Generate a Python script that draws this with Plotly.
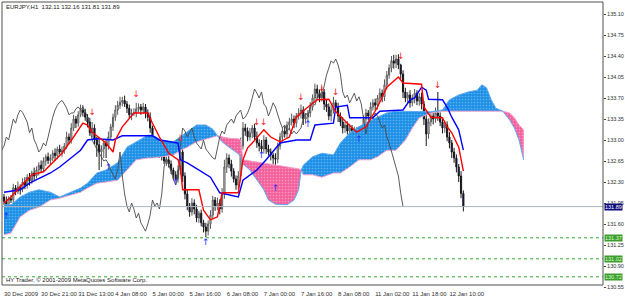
import numpy as np
import plotly.graph_objects as go

# ---------------- data ----------------
closes = [
    131.98, 131.92, 132.02, 132.00, 132.20, 132.14, 132.22, 132.18, 132.30, 132.25,
    132.38, 132.32, 132.45, 132.40, 132.50, 132.58, 132.52, 132.65, 132.72, 132.66,
    132.70, 132.78, 132.74, 132.85, 132.80, 132.83, 132.90, 133.05, 133.00, 133.20,
    133.35, 133.28, 133.42, 133.50, 133.46, 133.38, 133.30, 133.12, 133.20, 133.00,
    132.92, 132.80, 132.85, 132.95, 132.90, 133.05, 133.22, 133.38, 133.50, 133.58,
    133.63, 133.66, 133.60, 133.53, 133.42, 133.45, 133.45, 133.52, 133.55, 133.50,
    133.55, 133.45, 133.38, 133.20, 133.00, 132.92, 132.85, 132.78, 132.72, 132.65,
    132.67, 132.60, 132.50, 132.42, 132.35, 132.50, 132.80, 132.40, 132.10, 131.90,
    131.80, 131.95, 131.85, 131.70, 131.78, 131.62, 131.55, 131.48, 131.60, 131.75,
    132.00, 131.90, 131.95, 131.85, 132.10, 132.55, 132.70, 132.60, 132.48, 132.35,
    132.25, 132.40, 132.90, 133.20, 133.15, 133.05, 133.12, 133.20, 133.05, 132.95,
    132.90, 132.85, 133.00, 132.85, 132.80, 132.75, 132.70, 132.68, 132.90, 133.05,
    133.15, 133.10, 133.25, 133.30, 133.35, 133.28, 133.40, 133.45, 133.50, 133.35,
    133.38, 133.45, 133.55, 133.70, 133.85, 133.78, 133.70, 133.80, 133.60, 133.55,
    133.40, 133.50, 133.62, 133.55, 133.40, 133.30, 133.20, 133.25, 133.15, 133.20,
    133.10, 133.15, 133.10, 133.15, 133.20, 133.35, 133.45, 133.40, 133.55, 133.62,
    133.58, 133.70, 133.78, 133.72, 133.92, 134.08, 134.20, 134.32, 134.28, 134.35,
    134.25, 134.10, 133.80, 133.70, 133.75, 133.62, 133.70, 133.78, 133.65, 133.72,
    133.60, 133.35, 133.10, 133.30, 133.40, 133.35, 133.45, 133.40, 133.30, 133.20,
    133.25, 133.05, 132.95, 132.80, 132.70, 132.55, 132.40, 132.11, 131.89,
]
first_open = 132.05
hi_wick = [  # pips above the body
    5, 8, 4, 6, 7, 5, 9, 4, 6, 8,   5, 7, 4, 9, 6, 5, 8, 6, 4, 7,
    6, 5, 8, 4, 7, 6, 5, 9, 6, 8,   7, 5, 6, 9, 8, 6, 5, 7, 10, 6,
    5, 8, 6, 4, 7, 9, 5, 6, 8, 7,   9, 6, 8, 5, 6, 7, 8, 10, 6, 5,
    7, 5, 6, 8, 4, 6, 7, 5, 6, 8,   5, 7, 6, 4, 6, 8, 15, 9, 6, 7,
    5, 8, 6, 7, 4, 6, 5, 7, 6, 8,   7, 5, 9, 6, 10, 12, 8, 6, 7, 5,
    6, 8, 14, 10, 7, 6, 8, 5, 7, 9,  6, 10, 8, 5, 7, 6, 4, 8, 6, 7,
    5, 8, 6, 7, 9, 6, 5, 8, 9, 6,   7, 5, 8, 6, 9, 7, 6, 9, 5, 7,
    6, 8, 10, 5, 7, 6, 8, 5, 6, 7,  5, 7, 6, 8, 5, 6, 7, 5, 8, 6,
    7, 5, 8, 6, 9, 7, 6, 8, 10, 7,  8, 2, 6, 7, 5, 8, 6, 7, 5, 6,
    7, 5, 8, 6, 7, 5, 9, 35, 6, 5,  7, 6, 8, 5, 7, 6, 5, 8, 5,
]
lo_wick = [  # pips below the body
    6, 10, 8, 5, 7, 6, 4, 9, 5, 7,  6, 8, 5, 7, 4, 9, 6, 5, 8, 6,
    7, 5, 9, 6, 4, 8, 6, 5, 7, 6,   5, 8, 6, 4, 7, 6, 9, 5, 8, 7,
    20, 30, 25, 15, 20, 6, 5, 7, 6, 8,  6, 7, 5, 8, 6, 9, 5, 7, 6, 8,
    6, 9, 7, 8, 10, 6, 7, 8, 6, 5,  8, 6, 7, 9, 3, 6, 8, 10, 9, 7,
    8, 6, 9, 7, 8, 6, 9, 10, 7, 8,  6, 8, 7, 9, 6, 8, 10, 7, 9, 6,
    8, 7, 9, 6, 8, 7, 6, 9, 7, 8,   9, 7, 7, 8, 6, 9, 10, 38, 7, 6,
    8, 6, 7, 9, 6, 8, 7, 6, 9, 10,  8, 8, 7, 6, 8, 9, 7, 6, 10, 8,
    7, 9, 6, 8, 10, 7, 9, 8, 6, 7,  9, 20, 8, 5, 7, 6, 8, 7, 9, 6,
    8, 7, 6, 9, 7, 8, 6, 7, 9, 8,   7, 8, 10, 7, 9, 8, 6, 9, 7, 8,
    9, 10, 20, 8, 7, 9, 6, 8, 7, 9, 8, 7, 9, 10, 8, 9, 10, 8, 8,
]

tick_bars = [0, 16, 32, 48, 64, 80, 96, 112, 128, 144, 160, 176, 192]
tick_labels = ["30 Dec 2009", "30 Dec 21:00", "31 Dec 13:00", "4 Jan 08:00",
               "5 Jan 00:00", "5 Jan 16:00", "6 Jan 08:00", "7 Jan 00:00",
               "7 Jan 16:00", "8 Jan 08:00", "11 Jan 02:00", "11 Jan 18:00",
               "12 Jan 10:00"]
price_ticks = [130.55, 130.90, 131.25, 131.60, 131.95, 132.30, 132.65,
               133.00, 133.35, 133.70, 134.05, 134.40, 134.75, 135.10]

tenkan_bar = [0, 3, 7, 12, 17, 21, 25, 30, 34, 36, 38, 44, 47, 48, 51, 56, 62, 64,
              67, 71, 75, 76, 77, 84, 86, 89, 92, 94, 101, 103, 105, 107, 112, 115,
              119, 123, 126, 131, 135, 140, 143, 148, 152, 156, 161, 165, 170, 172,
              180, 181, 184, 189, 191, 193, 196, 198]
tenkan_val = [131.95, 132.05, 132.22, 132.42, 132.47, 132.62, 132.78, 133.05, 133.28,
              133.25, 133.13, 132.95, 132.80, 133.00, 133.22, 133.45, 133.45, 133.28,
              133.05, 132.78, 132.67, 132.55, 132.17, 132.17, 131.83, 131.67, 131.72,
              132.12, 132.12, 132.67, 132.87, 132.95, 133.17, 133.05, 132.97, 133.05,
              133.38, 133.55, 133.67, 133.68, 133.47, 133.28, 133.13, 133.22, 133.55,
              133.88, 134.05, 133.95, 133.93, 133.55, 133.38, 133.37, 133.22, 133.12,
              132.88, 132.48]

kijun_bar = [0, 7, 11, 20, 24, 28, 33, 36, 40, 47, 51, 64, 67, 75, 76, 79, 84, 89, 93,
             101, 103, 109, 113, 119, 126, 132, 134, 142, 143, 148, 149, 159, 162, 172,
             175, 177, 180, 182, 183, 189, 191, 193, 196, 198]
kijun_val = [132.13, 132.17, 132.28, 132.45, 132.55, 132.67, 132.83, 133.00, 133.02,
             133.00, 133.07, 133.07, 133.00, 132.95, 132.67, 132.62, 132.50, 132.38,
             132.12, 132.05, 132.33, 132.50, 132.67, 132.95, 133.00, 133.00, 133.25,
             133.28, 133.55, 133.58, 133.37, 133.37, 133.48, 133.50, 133.67, 133.70,
             133.88, 133.83, 133.68, 133.67, 133.55, 133.38, 133.17, 132.83]

cloud_bar = [0, 3, 7, 11, 15, 20, 24, 28, 33, 36, 40, 44, 49, 53, 57, 62, 64, 68, 73,
             76, 79, 83, 87, 90, 92, 94, 97, 101, 102, 103, 106, 109, 112, 114, 117,
             122, 125, 127, 128, 129, 133, 137, 142, 145, 149, 153, 158, 161, 165, 169,
             173, 176, 179, 184, 189, 192, 196, 200, 204, 206, 208, 210, 212, 215, 218,
             220, 222, 224]
span_a = [131.92, 131.92, 132.05, 132.13, 132.17, 132.13, 132.05, 132.12, 132.20, 132.28,
          132.45, 132.50, 132.62, 132.88, 132.97, 133.08, 133.08, 133.00, 132.97, 133.05,
          133.13, 133.25, 133.25, 133.18, 133.07, 132.97, 132.88, 132.77, 132.72, 132.60,
          132.50, 132.33, 132.17, 132.00, 131.93, 131.92, 132.00, 132.17, 132.47, 132.58,
          132.72, 132.78, 132.75, 132.95, 133.12, 133.22, 133.33, 133.38, 133.45, 133.48,
          133.48, 133.48, 133.48, 133.47, 133.50, 133.67, 133.75, 133.80, 133.83, 133.92,
          133.87, 133.67, 133.53, 133.48, 133.33, 133.20, 133.00, 132.67]
span_b = [131.42, 131.45, 131.72, 131.83, 131.88, 132.00, 132.03, 132.08, 132.13, 132.20,
          132.28, 132.30, 132.33, 132.50, 132.67, 132.70, 132.70, 132.72, 132.75, 132.83,
          132.88, 132.97, 133.02, 133.05, 133.07, 133.05, 133.03, 133.02, 133.00, 132.67,
          132.65, 132.63, 132.62, 132.60, 132.58, 132.55, 132.53, 132.52, 132.50, 132.42,
          132.42, 132.38, 132.45, 132.45, 132.55, 132.67, 132.67, 132.72, 132.83, 132.83,
          133.00, 133.20, 133.37, 133.45, 133.48, 133.48, 133.48, 133.48, 133.48, 133.48,
          133.48, 133.48, 133.48, 133.48, 133.45, 133.37, 133.25, 133.17]
chikou_shift = 26

frac_dn_bar = [38, 57, 76, 109, 112, 128, 137, 143, 171, 187]
frac_dn_val = [133.45, 133.76, 133.02, 133.28, 133.28, 133.70, 133.86, 133.78, 134.38, 133.90]
frac_up_bar = [1, 45, 74, 87, 111, 117, 131, 153]
frac_up_val = [131.72, 132.53, 132.28, 131.28, 132.73, 132.18, 133.25, 133.00]

last_price = 131.89
green_levels = [131.37, 131.02, 130.72]
title_text = "EURJPY,H1  132.11 132.16 131.81 131.89"
footer_text = "HY Trader, \u00a9 2001-2009 MetaQuotes Software Corp."

# ---------------- layout geometry ----------------
W, H = 625, 299
PX_L, PX_R, PX_T, PX_B = 2, 603, 2, 289
FRAME_B = 285
BAR0_PX, BAR_PX = 4.0, 2.32
REF_PX, REF_PRICE, PX_PER_UNIT = 14.0, 135.10, 60.0

x_lo = -(BAR0_PX - PX_L) / BAR_PX
x_hi = x_lo + (PX_R - PX_L) / BAR_PX
y_hi = REF_PRICE + (REF_PX - PX_T) / PX_PER_UNIT
y_lo = REF_PRICE - (PX_B - REF_PX) / PX_PER_UNIT


def paper_x(px):
    return (px - PX_L) / (PX_R - PX_L)


def paper_y(py):
    return (PX_B - py) / (PX_B - PX_T)


closes_a = np.array(closes)
n = len(closes_a)
bars = np.arange(n)
opens_a = np.concatenate([[first_open], closes_a[:-1]])
highs_a = np.maximum(opens_a, closes_a) + np.array(hi_wick[:n]) / 100.0
lows_a = np.minimum(opens_a, closes_a) - np.array(lo_wick[:n]) / 100.0

A = np.array(span_a)
B = np.array(span_b)
top = np.maximum(A, B)

FONT = "Liberation Sans"
AXIS_FONT = dict(family=FONT, size=5.5, color="#303030")
BLUE_FILL, PINK_FILL = "#1e8fe6", "#f4609c"

fig = go.Figure()

# cloud: blue where span A is above span B, pink where B is above A
fig.add_trace(go.Scatter(x=cloud_bar, y=B, mode="lines", line=dict(width=0),
                         hoverinfo="skip", showlegend=False))
fig.add_trace(go.Scatter(x=cloud_bar, y=top, mode="lines", line=dict(width=0),
                         fill="tonexty", fillcolor=BLUE_FILL,
                         fillpattern=dict(shape=".", bgcolor=BLUE_FILL, fgcolor="#9fd4ff",
                                          size=3, solidity=0.25),
                         hoverinfo="skip", showlegend=False))
fig.add_trace(go.Scatter(x=cloud_bar, y=A, mode="lines", line=dict(width=0),
                         hoverinfo="skip", showlegend=False))
fig.add_trace(go.Scatter(x=cloud_bar, y=top, mode="lines", line=dict(width=0),
                         fill="tonexty", fillcolor=PINK_FILL,
                         fillpattern=dict(shape=".", bgcolor=PINK_FILL, fgcolor="#ffd0e4",
                                          size=3, solidity=0.25),
                         hoverinfo="skip", showlegend=False))
fig.add_trace(go.Scatter(x=cloud_bar, y=B, mode="lines",
                         line=dict(color="#f2a0c8", width=1), showlegend=False))
fig.add_trace(go.Scatter(x=cloud_bar, y=A, mode="lines",
                         line=dict(color="#5aaaf0", width=1), showlegend=False))

# candles
fig.add_trace(go.Candlestick(
    x=bars, open=opens_a, high=highs_a, low=lows_a, close=closes_a,
    increasing=dict(line=dict(color="#5a5a5a", width=1), fillcolor="#ffffff"),
    decreasing=dict(line=dict(color="#181818", width=1), fillcolor="#000070"),
    whiskerwidth=0, showlegend=False, hoverinfo="skip"))

# chikou span (close shifted back)
fig.add_trace(go.Scatter(x=bars - chikou_shift, y=closes_a, mode="lines",
                         line=dict(color="#4a4a4a", width=0.9), showlegend=False))
# kijun / tenkan
fig.add_trace(go.Scatter(x=kijun_bar, y=kijun_val, mode="lines",
                         line=dict(color="#0000ff", width=1.4), showlegend=False))
fig.add_trace(go.Scatter(x=tenkan_bar, y=tenkan_val, mode="lines",
                         line=dict(color="#ff0000", width=1.4), showlegend=False))

# fractal arrows
fig.add_trace(go.Scatter(x=frac_dn_bar, y=frac_dn_val, mode="text", text=["\u2193"] * len(frac_dn_bar),
                         textfont=dict(family="DejaVu Sans", size=9, color="#ff2020"),
                         textposition="middle center", showlegend=False))
fig.add_trace(go.Scatter(x=frac_up_bar, y=frac_up_val, mode="text", text=["\u2191"] * len(frac_up_bar),
                         textfont=dict(family="DejaVu Sans", size=9, color="#2030ff"),
                         textposition="middle center", showlegend=False))

shapes = []
shapes.append(dict(type="line", xref="paper", yref="y", x0=0, x1=1,
                   y0=last_price, y1=last_price, line=dict(color="#aab3bc", width=1)))
for lv in green_levels:
    shapes.append(dict(type="line", xref="paper", yref="y", x0=0, x1=1,
                       y0=lv, y1=lv, line=dict(color="#33aa33", width=1, dash="dot")))
shapes.append(dict(type="rect", xref="paper", yref="paper",
                   x0=paper_x(PX_L), x1=paper_x(PX_R), y0=paper_y(FRAME_B), y1=paper_y(PX_T),
                   line=dict(color="#505050", width=1), fillcolor="rgba(0,0,0,0)"))

annotations = []
annotations.append(dict(xref="paper", yref="paper", x=paper_x(4), y=paper_y(7.5),
                        xanchor="left", yanchor="middle", text=title_text, showarrow=False,
                        font=dict(family=FONT, size=6, color="#202020")))
annotations.append(dict(xref="paper", yref="paper", x=paper_x(4), y=paper_y(280),
                        xanchor="left", yanchor="middle", text=footer_text, showarrow=False,
                        font=dict(family=FONT, size=6, color="#202020")))
annotations.append(dict(xref="paper", yref="y", x=1, y=last_price, xanchor="left",
                        yanchor="middle", text=f"{last_price:.2f}", showarrow=False,
                        xshift=1, bgcolor="#0a0a78", borderpad=0,
                        font=dict(family=FONT, size=5.5, color="#ffffff")))
for lv in green_levels:
    annotations.append(dict(xref="paper", yref="y", x=1, y=lv, xanchor="left",
                            yanchor="middle", text=f"{lv:.2f}", showarrow=False,
                            xshift=1, bgcolor="#3c9c2c", borderpad=0,
                            font=dict(family=FONT, size=5.5, color="#d8ffd0")))

fig.update_layout(
    width=W, height=H,
    margin=dict(l=PX_L, r=W - PX_R, t=PX_T, b=H - PX_B, autoexpand=False),
    paper_bgcolor="#ffffff", plot_bgcolor="#ffffff",
    showlegend=False, hovermode=False,
    shapes=shapes, annotations=annotations,
    xaxis=dict(range=[x_lo, x_hi], showgrid=False, zeroline=False, showline=False,
               tickmode="array", tickvals=tick_bars, ticktext=tick_labels,
               ticks="", ticklabelposition="outside right", tickangle=0, automargin=False,
               tickfont=dict(family=FONT, size=6, color="#303030"),
               rangeslider=dict(visible=False)),
    yaxis=dict(range=[y_lo, y_hi], side="right", showgrid=False, zeroline=False,
               showline=False, tickmode="array", tickvals=price_ticks,
               ticktext=[f"{v:.2f}" for v in price_ticks], automargin=False,
               ticks="outside", ticklen=2, tickcolor="#404040",
               tickfont=AXIS_FONT),
)

fig.write_html("out.html")
